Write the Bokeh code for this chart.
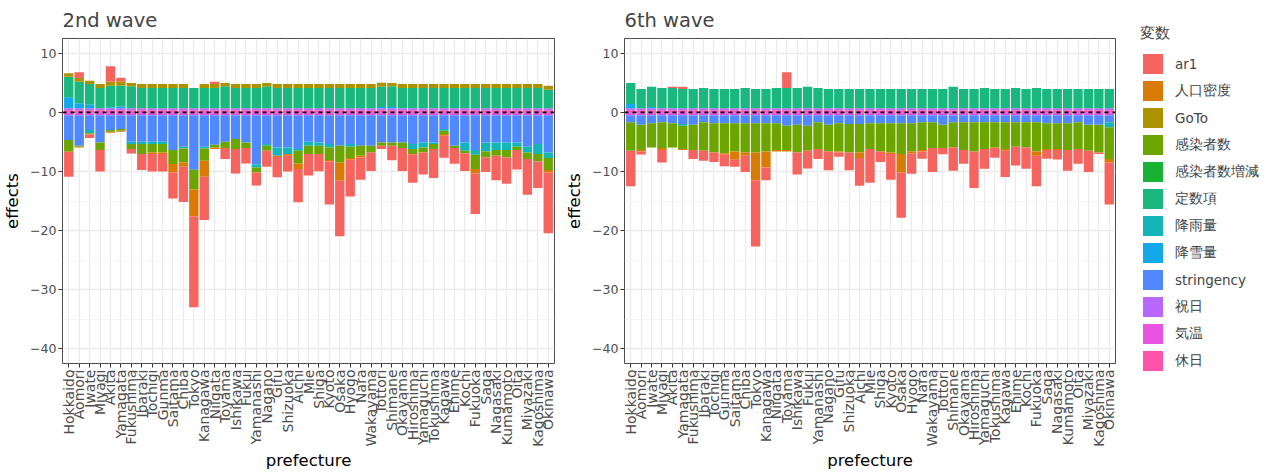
import math
from bokeh.plotting import figure
from bokeh.models import (ColumnDataSource, Range1d, FixedTicker, Span, Legend, LegendItem)
from bokeh.layouts import row
from bokeh.embed import file_html
from bokeh.resources import INLINE

FONT = "DejaVu Sans"

prefectures = ["Hokkaido", "Aomori", "Iwate", "Miyagi", "Akita", "Yamagata", "Fukushima",
               "Ibaraki", "Tochigi", "Gunma", "Saitama", "Chiba", "Tokyo", "Kanagawa",
               "Niigata", "Toyama", "Ishikawa", "Fukui", "Yamanashi", "Nagano", "Gifu",
               "Shizuoka", "Aichi", "Mie", "Shiga", "Kyoto", "Osaka", "Hyogo", "Nara",
               "Wakayama", "Tottori", "Shimane", "Okayama", "Hiroshima", "Yamaguchi",
               "Tokushima", "Kagawa", "Ehime", "Kochi", "Fukuoka", "Saga", "Nagasaki",
               "Kumamoto", "Oita", "Miyazaki", "Kagoshima", "Okinawa"]

variables = ["ar1", "人口密度", "GoTo", "感染者数", "感染者数増減", "定数項",
             "降雨量", "降雪量", "stringency", "祝日", "気温", "休日"]
colors = ["#F5645F", "#D97A05", "#AD9200", "#6DA500", "#18B134", "#1AB87E",
          "#14B4B8", "#12A8EA", "#5088FF", "#B968FF", "#EA52E2", "#FF52AA"]

# ---------------- 2nd wave ----------------
w2_ar1 = [-4.23, 0.96, -0.59, -3.62, 2.6, 0.6, -0.73, -2.71, -2.94, -2.94,
          -4.43, -5.99, -15.4, -7.3, 0.4, -1.86, -4.12, -2.6, -2.2, -2.71,
          -3.42, -2.66, -5.6, -3.64, -2.9, -7.3, -9.4, -6.2, -3.77, -3.16,
          -0.56, -2.45, -3.89, -4.84, -3.72, -4.89, -3.75, -2.65, -2.99, -6.86,
          -2.47, -4.16, -4.47, -3.32, -6.04, -4.5, -10.28]
w2_density = [0, -0.11, -0.1, 0, -0.17, -0.17, 0, 0, -0.28, -0.28,
              -1.41, -0.73, -4.55, -2.71, -0.28, 0, 0, 0, 0, 0,
              -0.2, -0.28, -0.96, 0, 0, -0.23, -3.1, -0.28, -0.28, 0,
              0, 0, 0, 0, 0, 0, -0.28, 0, 0, -0.73,
              0, 0, 0, 0, 0, 0, -0.4]
w2_goto = [0.56, 0.62, 0.57, 0.68, 0.7, 0.7, 0.57, 0.68, 0.68, 0.68,
           0.68, 0.68, 0.0, 0.68, 0.68, 0.57, 0.68, 0.68, 0.68, 0.57,
           0.68, 0.68, 0.68, 0.68, 0.68, 0.68, 0.68, 0.68, 0.68, 0.68,
           0.68, 0.57, 0.68, 0.68, 0.68, 0.68, 0.68, 0.68, 0.68, 0.68,
           0.68, 0.68, 0.68, 0.68, 0.68, 0.68, 0.68]
w2_cases = [-1.98, -0.17, -0.1, -1.3, -0.28, -0.28, -0.85, -1.69, -1.41, -1.41,
            -2.37, -2.37, -3.35, -2.09, -0.45, -1.07, -1.69, -0.96, -0.85, -0.85,
            0, 0, -2.15, -1.41, -1.41, -2.15, -2.82, -1.92, -1.69, -1.13,
            -0.56, -0.56, -0.96, -0.85, -0.85, -0.85, -0.56, -0.4, -0.45, -2.43,
            -1.02, -0.96, -1.24, -0.56, -1.13, -1.24, -2.03]
w2_cases_diff = [0.0] * 47
w2_const = [3.5, 3.67, 3.5, 3.42, 3.65, 3.55, 3.7, 3.42, 3.42, 3.42,
            3.42, 3.42, 3.42, 3.42, 3.42, 3.7, 3.42, 3.42, 3.42, 3.7,
            3.42, 3.42, 3.42, 3.42, 3.42, 3.42, 3.42, 3.42, 3.42, 3.42,
            3.42, 3.5, 3.42, 3.42, 3.42, 3.42, 3.42, 3.42, 3.42, 3.42,
            3.42, 3.42, 3.42, 3.42, 3.42, 3.42, 3.14]
w2_rain = [0, 0, -0.56, 0, 0, 0, -0.4, -0.4, -0.4, -0.4,
           0, -0.28, 0, -0.28, 0, 0, 0, 0, -0.56, -0.28,
           -1.41, -1.13, -0.28, -0.68, -0.56, -0.56, 0, -0.45, 0, 0,
           0, 0, 0, -0.85, -0.85, -0.28, -0.28, 0, -1.41, -0.79,
           -1.53, -1.3, -1.3, -0.73, -0.96, -1.69, -0.96]
w2_snow = [1.84, 0.83, 0.6, 0, 0.15, 0.3, 0, 0, 0, 0,
           0, 0, 0, 0, 0, 0, 0, 0, 0, 0,
           0, 0, 0, 0, 0, 0, 0, 0, 0, 0,
           0.2, 0.2, 0, 0, 0, 0, 0, 0, 0, 0,
           0, 0, 0, 0, 0, 0, 0]
w2_stringency = [-4.19, -5.15, -2.49, -4.58, -2.49, -2.32, -4.47, -4.47, -4.47, -4.47,
                 -5.88, -5.32, -9.2, -5.32, -4.98, -4.47, -4.02, -4.58, -8.26, -4.87,
                 -5.43, -5.43, -5.71, -4.47, -4.58, -4.87, -5.15, -4.87, -5.15, -5.15,
                 -4.58, -4.58, -4.58, -4.87, -4.58, -4.58, -2.32, -5.15, -4.58, -5.88,
                 -4.58, -4.58, -4.58, -4.58, -5.32, -4.87, -6.28]
w2_holiday = [0.35] * 47
w2_temp = [-0.5] * 47
w2_weekend = [0.35] * 47

# ---------------- 6th wave ----------------
w6_ar1 = [-6.0, -0.5, 0.0, -2.1, 0.23, 0.4, -1.5, -1.7, -1.6, -1.93,
          -1.18, -2.76, -11.23, -2.18, 0.0, 2.66, -3.72, -3.0, -1.69, -3.19,
          -0.72, -3.02, -4.66, -5.69, -1.79, -4.34, -7.68, -3.45, -1.24, -4.05,
          -1.05, -3.97, -2.32, -6.19, -3.34, -1.65, -4.46, -3.18, -3.62, -5.16,
          -1.47, -1.6, -3.52, -2.49, -3.6, -0.28, -7.13]
w6_density = [0, -0.23, 0, -0.34, 0, -0.17, 0, 0, 0, -0.23,
              -1.41, -0.56, -4.69, -2.71, -0.23, -0.23, 0, 0, 0, 0,
              -0.17, 0, -0.96, 0, 0, -0.28, -3.1, -0.34, -0.23, 0,
              0, 0, 0, 0, 0, -0.11, -0.28, 0, 0, -0.73,
              -0.17, -0.17, 0, 0, 0, 0, -0.56]
w6_goto = [0.0] * 47
w6_cases = [-4.8, -4.29, -4.07, -4.35, -4.07, -3.95, -4.29, -4.8, -4.92, -5.08,
            -4.75, -4.92, -4.92, -4.75, -4.52, -4.12, -4.69, -4.24, -4.52, -4.52,
            -4.75, -4.8, -4.8, -4.35, -4.75, -4.92, -5.2, -4.75, -4.69, -4.35,
            -3.95, -4.24, -4.69, -4.92, -4.52, -4.24, -4.52, -4.12, -4.24, -4.92,
            -4.35, -4.35, -4.52, -4.52, -4.41, -4.69, -5.37]
w6_cases_diff = [0.0] * 47
w6_const = [3.56, 3.25, 3.45, 3.42, 3.42, 3.25, 3.25, 3.42, 3.25, 3.25,
            3.25, 3.42, 3.25, 3.25, 3.42, 3.42, 3.42, 3.65, 3.42, 3.25,
            3.25, 3.25, 3.25, 3.25, 3.25, 3.25, 3.25, 3.25, 3.25, 3.25,
            3.25, 3.65, 3.25, 3.25, 3.42, 3.25, 3.25, 3.42, 3.25, 3.42,
            3.25, 3.25, 3.25, 3.25, 3.25, 3.25, 3.25]
w6_rain = [0, 0, 0, 0, 0, -0.28, 0, 0, 0, 0,
           0, 0, 0, 0, 0, 0, 0, 0, 0, 0,
           0, 0, 0, 0, 0, 0, 0, 0, 0, 0,
           0, 0, 0, 0, 0, 0, 0, 0, 0, 0,
           0, 0, 0, 0, 0, 0, -0.85]
w6_snow = [0.71, 0, 0.2, 0, 0, 0, 0, 0, 0, 0,
           0, 0, 0, 0, 0, 0, 0, 0, 0, 0,
           0, 0, 0, 0, 0, 0, 0, 0, 0, 0,
           0, 0, 0, 0, 0, 0, 0, 0, 0, 0,
           0, 0, 0, 0, 0, 0, 0]
w6_stringency = [-1.19, -1.59, -1.36, -1.19, -1.36, -1.48, -1.59, -1.19, -1.36, -1.36,
                 -1.36, -1.36, -1.36, -1.36, -1.36, -1.76, -1.59, -1.76, -1.19, -1.59,
                 -1.36, -1.48, -1.48, -1.36, -1.36, -1.36, -1.36, -1.36, -1.19, -1.19,
                 -1.59, -1.19, -1.19, -1.19, -1.19, -1.19, -1.19, -1.19, -1.19, -1.19,
                 -1.36, -1.36, -1.36, -1.19, -1.59, -1.59, -1.19]
w6_holiday = [0.35] * 47
w6_temp = [-0.5] * 47
w6_weekend = [0.35] * 47

wave2 = dict(zip(variables, [w2_ar1, w2_density, w2_goto, w2_cases, w2_cases_diff, w2_const,
                             w2_rain, w2_snow, w2_stringency, w2_holiday, w2_temp, w2_weekend]))
wave6 = dict(zip(variables, [w6_ar1, w6_density, w6_goto, w6_cases, w6_cases_diff, w6_const,
                             w6_rain, w6_snow, w6_stringency, w6_holiday, w6_temp, w6_weekend]))

y_ticks = [-40, -30, -20, -10, 0, 10]
y_minor = [-35, -25, -15, -5, 5]

stack_order = list(range(len(variables)))[::-1]  # closest to zero first
xs = list(range(1, 48))


def build_source(data):
    src = {"x": xs}
    for k in stack_order:
        vals = data[variables[k]]
        src[f"p{k}"] = [max(v, 0.0) for v in vals]
        src[f"n{k}"] = [min(v, 0.0) for v in vals]
    return ColumnDataSource(src)


pos_fields = [f"p{k}" for k in stack_order]
neg_fields = [f"n{k}" for k in stack_order]
stack_cols = [colors[k] for k in stack_order]


def make_panel(title, source, frame_w, right_border):
    p = figure(frame_width=frame_w, frame_height=325, title=title,
               x_range=Range1d(0.4, 47.6), y_range=Range1d(-42.5, 12.5),
               output_backend="svg", toolbar_location=None,
               min_border_left=53, min_border_right=right_border,
               min_border_top=30, min_border_bottom=100)
    p.vbar_stack(pos_fields, x="x", width=0.9, fill_color=stack_cols, line_color=None, source=source)
    p.vbar_stack(neg_fields, x="x", width=0.9, fill_color=stack_cols, line_color=None, source=source)
    p.add_layout(Span(location=0, dimension="width", line_color="black",
                      line_dash="4 4", line_width=1.6))

    p.xaxis.ticker = FixedTicker(ticks=xs, minor_ticks=[])
    p.xaxis.major_label_overrides = {i + 1: n for i, n in enumerate(prefectures)}
    p.xaxis.major_label_orientation = math.pi / 2
    p.yaxis.ticker = FixedTicker(ticks=y_ticks, minor_ticks=y_minor)
    p.xgrid.ticker = FixedTicker(ticks=xs, minor_ticks=[])
    p.ygrid.ticker = FixedTicker(ticks=y_ticks, minor_ticks=y_minor)
    for g in (p.xgrid, p.ygrid):
        g.grid_line_color = "#EBEBEB"
        g.grid_line_width = 1.3
    p.ygrid.minor_grid_line_color = "#F2F2F2"
    p.ygrid.minor_grid_line_width = 0.8

    for ax in (p.xaxis, p.yaxis):
        ax.axis_line_color = None
        ax.major_tick_line_color = "#333333"
        ax.major_tick_out = 4
        ax.major_tick_in = 0
        ax.minor_tick_line_color = None
        ax.major_label_text_font = FONT
        ax.major_label_text_color = "#4D4D4D"
        ax.axis_label_text_font = FONT
        ax.axis_label_text_font_size = "16.5px"
        ax.axis_label_text_font_style = "normal"
        ax.axis_label_text_color = "black"
        ax.major_label_standoff = 2
    p.xaxis.major_label_text_font_size = "14px"
    p.yaxis.major_label_text_font_size = "12.5px"
    p.xaxis.axis_label = "prefecture"
    p.yaxis.axis_label = "effects"
    p.xaxis.axis_label_standoff = 1
    p.yaxis.axis_label_standoff = 5

    p.outline_line_color = "#4D4D4D"
    p.outline_line_width = 1
    p.background_fill_color = "white"
    p.border_fill_color = "white"
    p.title.text_font = FONT
    p.title.text_font_size = "19.5px"
    p.title.text_font_style = "normal"
    p.title.align = "left"
    p.title.standoff = 13
    return p


src2 = build_source(wave2)
src6 = build_source(wave6)
p1 = make_panel("2nd wave", src2, 492, 8)
p2 = make_panel("6th wave", src6, 491, 11)

# legend panel (its glyphs reuse the 6th-wave data, out of view)
p3 = figure(width=134, height=464, x_range=Range1d(100, 101), y_range=Range1d(100, 101),
            x_axis_location=None, y_axis_location=None, toolbar_location=None,
            output_backend="svg", min_border_left=14, min_border_top=24,
            min_border_right=0, min_border_bottom=0, outline_line_color=None)
p3.frame_align = False
p3.grid.visible = False
leg_renderers = p3.vbar_stack(pos_fields, x="x", width=0.9, fill_color=stack_cols,
                              line_color=None, source=src6)
items = []
for k, name in enumerate(variables):
    items.append(LegendItem(label=name, renderers=[leg_renderers[stack_order.index(k)]]))
legend = Legend(items=items, title="変数", location="top_left",
                glyph_width=25, glyph_height=25, spacing=2, label_standoff=10,
                padding=0, margin=0, border_line_color=None, background_fill_alpha=0,
                label_text_font=FONT, label_text_font_size="13.5px",
                title_text_font=FONT, title_text_font_size="15px", title_standoff=8,
                title_text_font_style="normal", label_height=25)
p3.add_layout(legend, "center")

layout = row(p1, p2, p3)
open("out.html", "w").write(file_html(layout, INLINE))
